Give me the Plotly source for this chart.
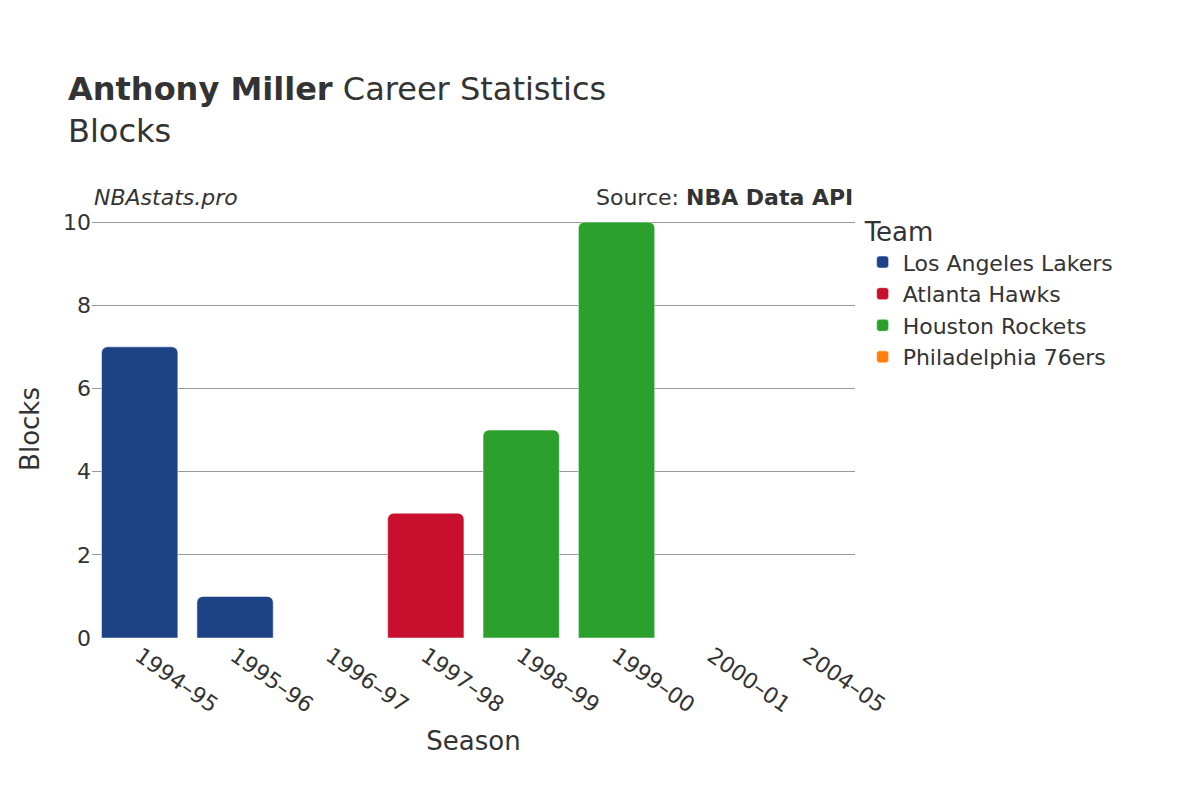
import plotly.graph_objects as go

seasons = ["1994–95", "1995–96", "1996–97", "1997–98", "1998–99", "1999–00", "2000–01", "2004–05"]
teams = ["Los Angeles Lakers", "Atlanta Hawks", "Houston Rockets", "Philadelphia 76ers"]
colors = ["#1d4286", "#c8102e", "#2ca02c", "#ff7f0e"]
team_seasons = {
    "Los Angeles Lakers": ["1994–95", "1995–96", "1996–97"],
    "Atlanta Hawks": ["1997–98"],
    "Houston Rockets": ["1998–99", "1999–00"],
    "Philadelphia 76ers": ["2000–01", "2004–05"],
}
team_blocks = {
    "Los Angeles Lakers": [7, 1, 0],
    "Atlanta Hawks": [3],
    "Houston Rockets": [5, 10],
    "Philadelphia 76ers": [0, 0],
}

fig = go.Figure()
for t, c in zip(teams, colors):
    fig.add_trace(go.Bar(x=team_seasons[t], y=team_blocks[t], name=t, marker_color=c))

fig.update_layout(
    width=1200, height=800, template="plotly_white",
    font=dict(family="DejaVu Sans", size=22, color="#333"),
    title=dict(text="<b>Anthony Miller</b> Career Statistics<br>Blocks", x=0.05, y=0.885,
               font=dict(size=32)),
    margin=dict(l=84, r=353, t=212, b=170),
    barmode="overlay", bargap=0.2, barcornerradius=6,
    legend=dict(title=dict(text="Team", font=dict(size=26)), x=1.01, y=1.03, font=dict(size=22)),
    xaxis=dict(title=dict(text="Season", font=dict(size=26)), categoryorder="array",
               categoryarray=seasons, tickangle=35, showgrid=False),
    yaxis=dict(title=dict(text="Blocks", font=dict(size=26)), range=[0, 10.05], dtick=2,
               gridcolor="#999", zeroline=False),
    annotations=[
        dict(text="<i>NBAstats.pro</i>", xref="paper", yref="paper", x=0, y=1.02,
             xanchor="left", yanchor="bottom", showarrow=False, font=dict(size=22)),
        dict(text="Source: <b>NBA Data API</b>", xref="paper", yref="paper", x=1, y=1.02,
             xanchor="right", yanchor="bottom", showarrow=False, font=dict(size=22)),
    ],
)
fig.write_html("out.html")
